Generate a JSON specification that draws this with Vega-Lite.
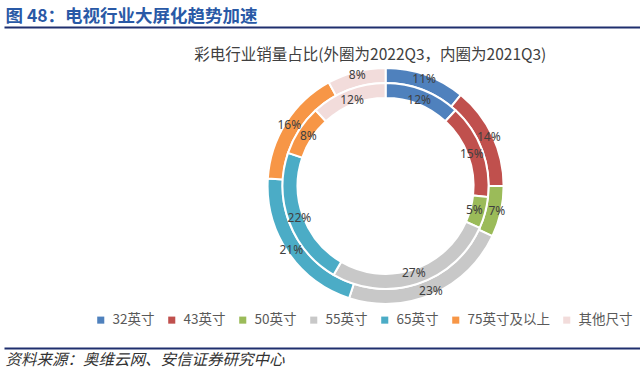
{
  "$schema": "https://vega.github.io/schema/vega-lite/v6.json",
  "autosize": "none",
  "width": 636,
  "height": 321,
  "padding": {"left": 4, "top": 27, "right": 0, "bottom": 29},
  "background": "white",
  "config": {"view": {"stroke": null}},
  "data": {
    "values": [
      {"size": "32英寸", "ring": "outer", "v": 0.11, "o": 1},
      {"size": "43英寸", "ring": "outer", "v": 0.14, "o": 2},
      {"size": "50英寸", "ring": "outer", "v": 0.07, "o": 3},
      {"size": "55英寸", "ring": "outer", "v": 0.23, "o": 4},
      {"size": "65英寸", "ring": "outer", "v": 0.21, "o": 5},
      {"size": "75英寸及以上", "ring": "outer", "v": 0.16, "o": 6},
      {"size": "其他尺寸", "ring": "outer", "v": 0.08, "o": 7},
      {"size": "32英寸", "ring": "inner", "v": 0.12, "o": 1},
      {"size": "43英寸", "ring": "inner", "v": 0.15, "o": 2},
      {"size": "50英寸", "ring": "inner", "v": 0.05, "o": 3},
      {"size": "55英寸", "ring": "inner", "v": 0.27, "o": 4},
      {"size": "65英寸", "ring": "inner", "v": 0.22, "o": 5},
      {"size": "75英寸及以上", "ring": "inner", "v": 0.08, "o": 6},
      {"size": "其他尺寸", "ring": "inner", "v": 0.12, "o": 7}
    ]
  },
  "layer": [
    {
      "mark": {"type": "rule", "opacity": 0},
      "encoding": {
        "x": {
          "datum": 0, "type": "quantitative",
          "scale": {"domain": [0, 1], "nice": false},
          "axis": {
            "orient": "top",
            "title": "图 48：电视行业大屏化趋势加速",
            "labels": false, "ticks": false, "grid": false,
            "domainColor": "#1F2F6E", "domainWidth": 2,
            "titleX": 1, "titleY": -6,
            "titleAlign": "left", "titleAnchor": "start", "titleBaseline": "alphabetic",
            "titleFont": "Noto Sans CJK SC", "titleFontSize": 17.5, "titleFontWeight": "bold",
            "titleColor": "#2959A6"
          }
        }
      }
    },
    {
      "mark": {"type": "rule", "opacity": 0},
      "encoding": {
        "x": {
          "datum": 0, "type": "quantitative",
          "scale": {"domain": [0, 1], "nice": false},
          "axis": {
            "orient": "bottom",
            "title": "资料来源：奥维云网、安信证券研究中心",
            "labels": false, "ticks": false, "grid": false,
            "domainColor": "#1F2F6E", "domainWidth": 2,
            "titleX": 1, "titleY": 16,
            "titleAlign": "left", "titleAnchor": "start", "titleBaseline": "alphabetic",
            "titleFont": "Noto Sans CJK SC", "titleFontSize": 15.5, "titleFontWeight": "normal",
            "titleFontStyle": "italic",
            "titleColor": "#333333"
          }
        }
      }
    },
    {
      "data": {"values": [{"t": "彩电行业销量占比(外圈为2022Q3，内圈为2021Q3)"}]},
      "mark": {"type": "text", "font": "Noto Sans CJK SC", "fontSize": 15.5, "color": "#404040", "baseline": "middle", "align": "center"},
      "encoding": {
        "text": {"field": "t"},
        "x": {"datum": 0.576, "type": "quantitative", "axis": null},
        "y": {"datum": 0.9128, "type": "quantitative", "scale": {"domain": [0, 1], "nice": false}, "axis": null}
      }
    },
    {
      "transform": [{"filter": "datum.ring == 'outer'"}],
      "mark": {"type": "arc", "outerRadius": 118, "innerRadius": 103, "stroke": "white", "strokeWidth": 2},
      "encoding": {
        "x": {"datum": 0.6, "type": "quantitative", "axis": null},
        "y": {"datum": 0.505, "type": "quantitative", "axis": null},
        "theta": {"field": "v", "type": "quantitative", "stack": "normalize"},
        "order": {"field": "o"},
        "color": {
          "field": "size", "type": "nominal",
          "scale": {
            "domain": ["32英寸", "43英寸", "50英寸", "55英寸", "65英寸", "75英寸及以上", "其他尺寸"],
            "range": ["#4F81BD", "#C0504D", "#9BBB59", "#C8C8C8", "#4BACC6", "#F79646", "#F2DCDB"]
          },
          "legend": {
            "orient": "none", "direction": "horizontal", "title": null,
            "legendX": 90, "legendY": 286,
            "symbolType": "square", "symbolSize": 50, "symbolStrokeWidth": 0,
            "labelFont": "Noto Sans CJK SC", "labelFontSize": 13.5, "labelColor": "#595959",
            "labelOffset": 5, "columnPadding": 10, "padding": 0
          }
        }
      }
    },
    {
      "transform": [{"filter": "datum.ring == 'inner'"}],
      "mark": {"type": "arc", "outerRadius": 103, "innerRadius": 88, "stroke": "white", "strokeWidth": 2},
      "encoding": {
        "x": {"datum": 0.6, "type": "quantitative", "axis": null},
        "y": {"datum": 0.505, "type": "quantitative", "axis": null},
        "theta": {"field": "v", "type": "quantitative", "stack": "normalize"},
        "order": {"field": "o"},
        "color": {"field": "size", "type": "nominal"}
      }
    },
    {
      "transform": [{"filter": "datum.ring == 'outer'"}],
      "mark": {"type": "text", "radius": 114, "font": "Noto Sans", "fontSize": 12, "color": "#404040", "baseline": "middle", "align": "center"},
      "encoding": {
        "x": {"datum": 0.6, "type": "quantitative", "axis": null},
        "y": {"datum": 0.505, "type": "quantitative", "axis": null},
        "theta": {"field": "v", "type": "quantitative", "stack": "normalize"},
        "order": {"field": "o"},
        "text": {"field": "v", "type": "quantitative", "format": ".0%"}
      }
    },
    {
      "transform": [{"filter": "datum.ring == 'inner'"}],
      "mark": {"type": "text", "radius": 92, "font": "Noto Sans", "fontSize": 12, "color": "#404040", "baseline": "middle", "align": "center"},
      "encoding": {
        "x": {"datum": 0.6, "type": "quantitative", "axis": null},
        "y": {"datum": 0.505, "type": "quantitative", "axis": null},
        "theta": {"field": "v", "type": "quantitative", "stack": "normalize"},
        "order": {"field": "o"},
        "text": {"field": "v", "type": "quantitative", "format": ".0%"}
      }
    }
  ],
  "resolve": {"axis": {"x": "independent"}}
}
